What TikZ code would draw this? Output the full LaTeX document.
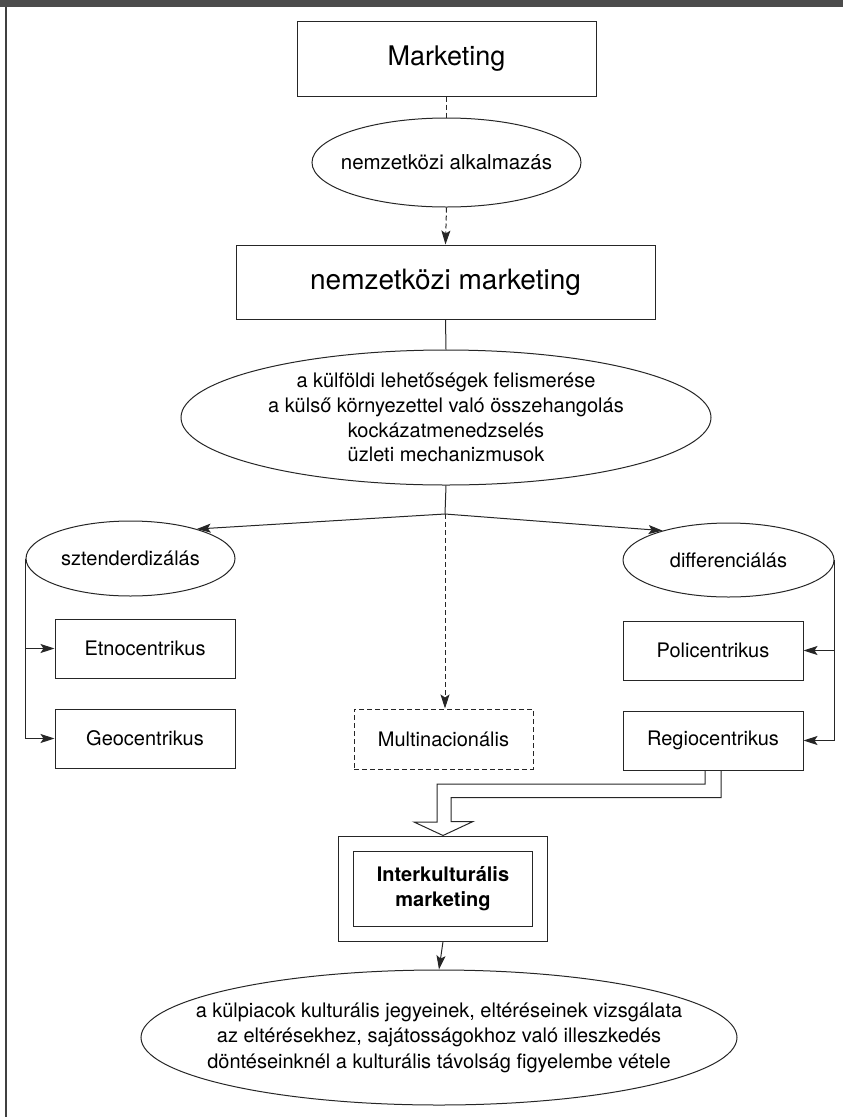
\documentclass[tikz,border=0pt]{standalone}
\usepackage{fontspec}
\setmainfont{TeX Gyre Heros}
\usetikzlibrary{shapes.geometric,arrows.meta,calc}
\begin{document}
\begin{tikzpicture}[x=1pt,y=-1pt,
  every node/.style={font=\fontsize{20}{24.7}\selectfont, text=black},
  box/.style={draw=black!85, line width=1pt, rectangle, inner sep=0pt, align=center},
  ell/.style={draw=black!85, line width=1pt, ellipse, inner xsep=-150pt, inner ysep=-40pt, align=center},
  conn/.style={draw=black!85, line width=1pt},
  arr/.style={conn, -{Stealth[length=14pt,width=9pt,inset=3pt]}},
  dsh/.style={dash pattern=on 5pt off 3pt}]
\useasboundingbox (0,0) rectangle (843,1117);
% frame
\fill[black!70] (0,0) rectangle (843,7);
\draw[black!75, line width=1.5pt] (6,7) -- (6,1117);

% nodes
\node[box, minimum width=299pt, minimum height=75pt, font=\fontsize{27}{32}\selectfont] (mkt) at (446.5,58.5) {Marketing};
\node[ell, minimum width=269pt, minimum height=89pt, font=\fontsize{20.5}{25}\selectfont] (alk) at (446.5,162.5) {nemzetközi alkalmazás};
\node[box, minimum width=419pt, minimum height=74pt, font=\fontsize{28}{32}\selectfont] (nm) at (445.5,282) {nemzetközi marketing};
\node[ell, minimum width=530pt, minimum height=135pt] (kf) at (446,417.5)
  {a külföldi lehetőségek felismerése\\a külső környezettel való összehangolás\\kockázatmenedzselés\\üzleti mechanizmusok};
\coordinate (j) at (445,514);
\node[ell, minimum width=209pt, minimum height=75pt] (szt) at (130.5,558.5) {sztenderdizálás};
\node[ell, minimum width=211pt, minimum height=74pt] (dif) at (728.5,560) {differenciálás};
\node[box, minimum width=180pt, minimum height=59pt] (etno) at (145,648.5) {Etnocentrikus};
\node[box, minimum width=180pt, minimum height=59pt] (geo) at (145,738.5) {Geocentrikus};
\node[box, minimum width=180pt, minimum height=59pt] (poli) at (713,650.5) {Policentrikus};
\node[box, minimum width=180pt, minimum height=59pt] (regio) at (713,740.5) {Regiocentrikus};
\node[box, dsh, minimum width=179pt, minimum height=60pt] (multi) at (443.5,739) {Multinacionális};
\node[box, minimum width=209pt, minimum height=105pt] (ik) at (443,888.5) {};
\node[box, minimum width=179pt, minimum height=75pt, font=\bfseries\fontsize{20}{25}\selectfont] (iki) at (ik.center) {Interkulturális\\marketing};
\node[ell, minimum width=596pt, minimum height=135pt, font=\fontsize{20}{25.5}\selectfont] (bot) at (439,1037.5)
  {a külpiacok kulturális jegyeinek, eltéréseinek vizsgálata\\az eltérésekhez, sajátosságokhoz való illeszkedés\\döntéseinknél a kulturális távolság figyelembe vétele};

% connectors
\draw[conn, dsh] (mkt.south) -- (alk.north);
\draw[arr, dsh] (alk.south) -- (nm.north);
\draw[conn] (nm.south) -- (kf.north);
\draw[conn] (kf.south) -- (j);
\draw[arr] (j) -- (szt.24);
\draw[arr] (j) -- (dif.156);
\draw[arr, dsh] (j) -- (j |- multi.north);
\draw[arr] (szt.west) |- (geo.west);
\draw[arr] (szt.west |- etno.west) -- (etno.west);
\draw[arr] (dif.east) |- (regio.east);
\draw[arr] (dif.east |- poli.east) -- (poli.east);
\draw[arr] (ik.south) -- (bot.north);

% hollow arrow
\coordinate (ha) at (437,784);
\draw[conn, line join=miter] ([xshift=-8pt]regio.south) |- (ha) -- ++(0,38) -- ++(-23,0) -- (ik.north)
  -- ++(30,-14) -- ++(-22,0) -- ++(0,-24) -| ([xshift=8pt]regio.south);
\end{tikzpicture}
\end{document}
